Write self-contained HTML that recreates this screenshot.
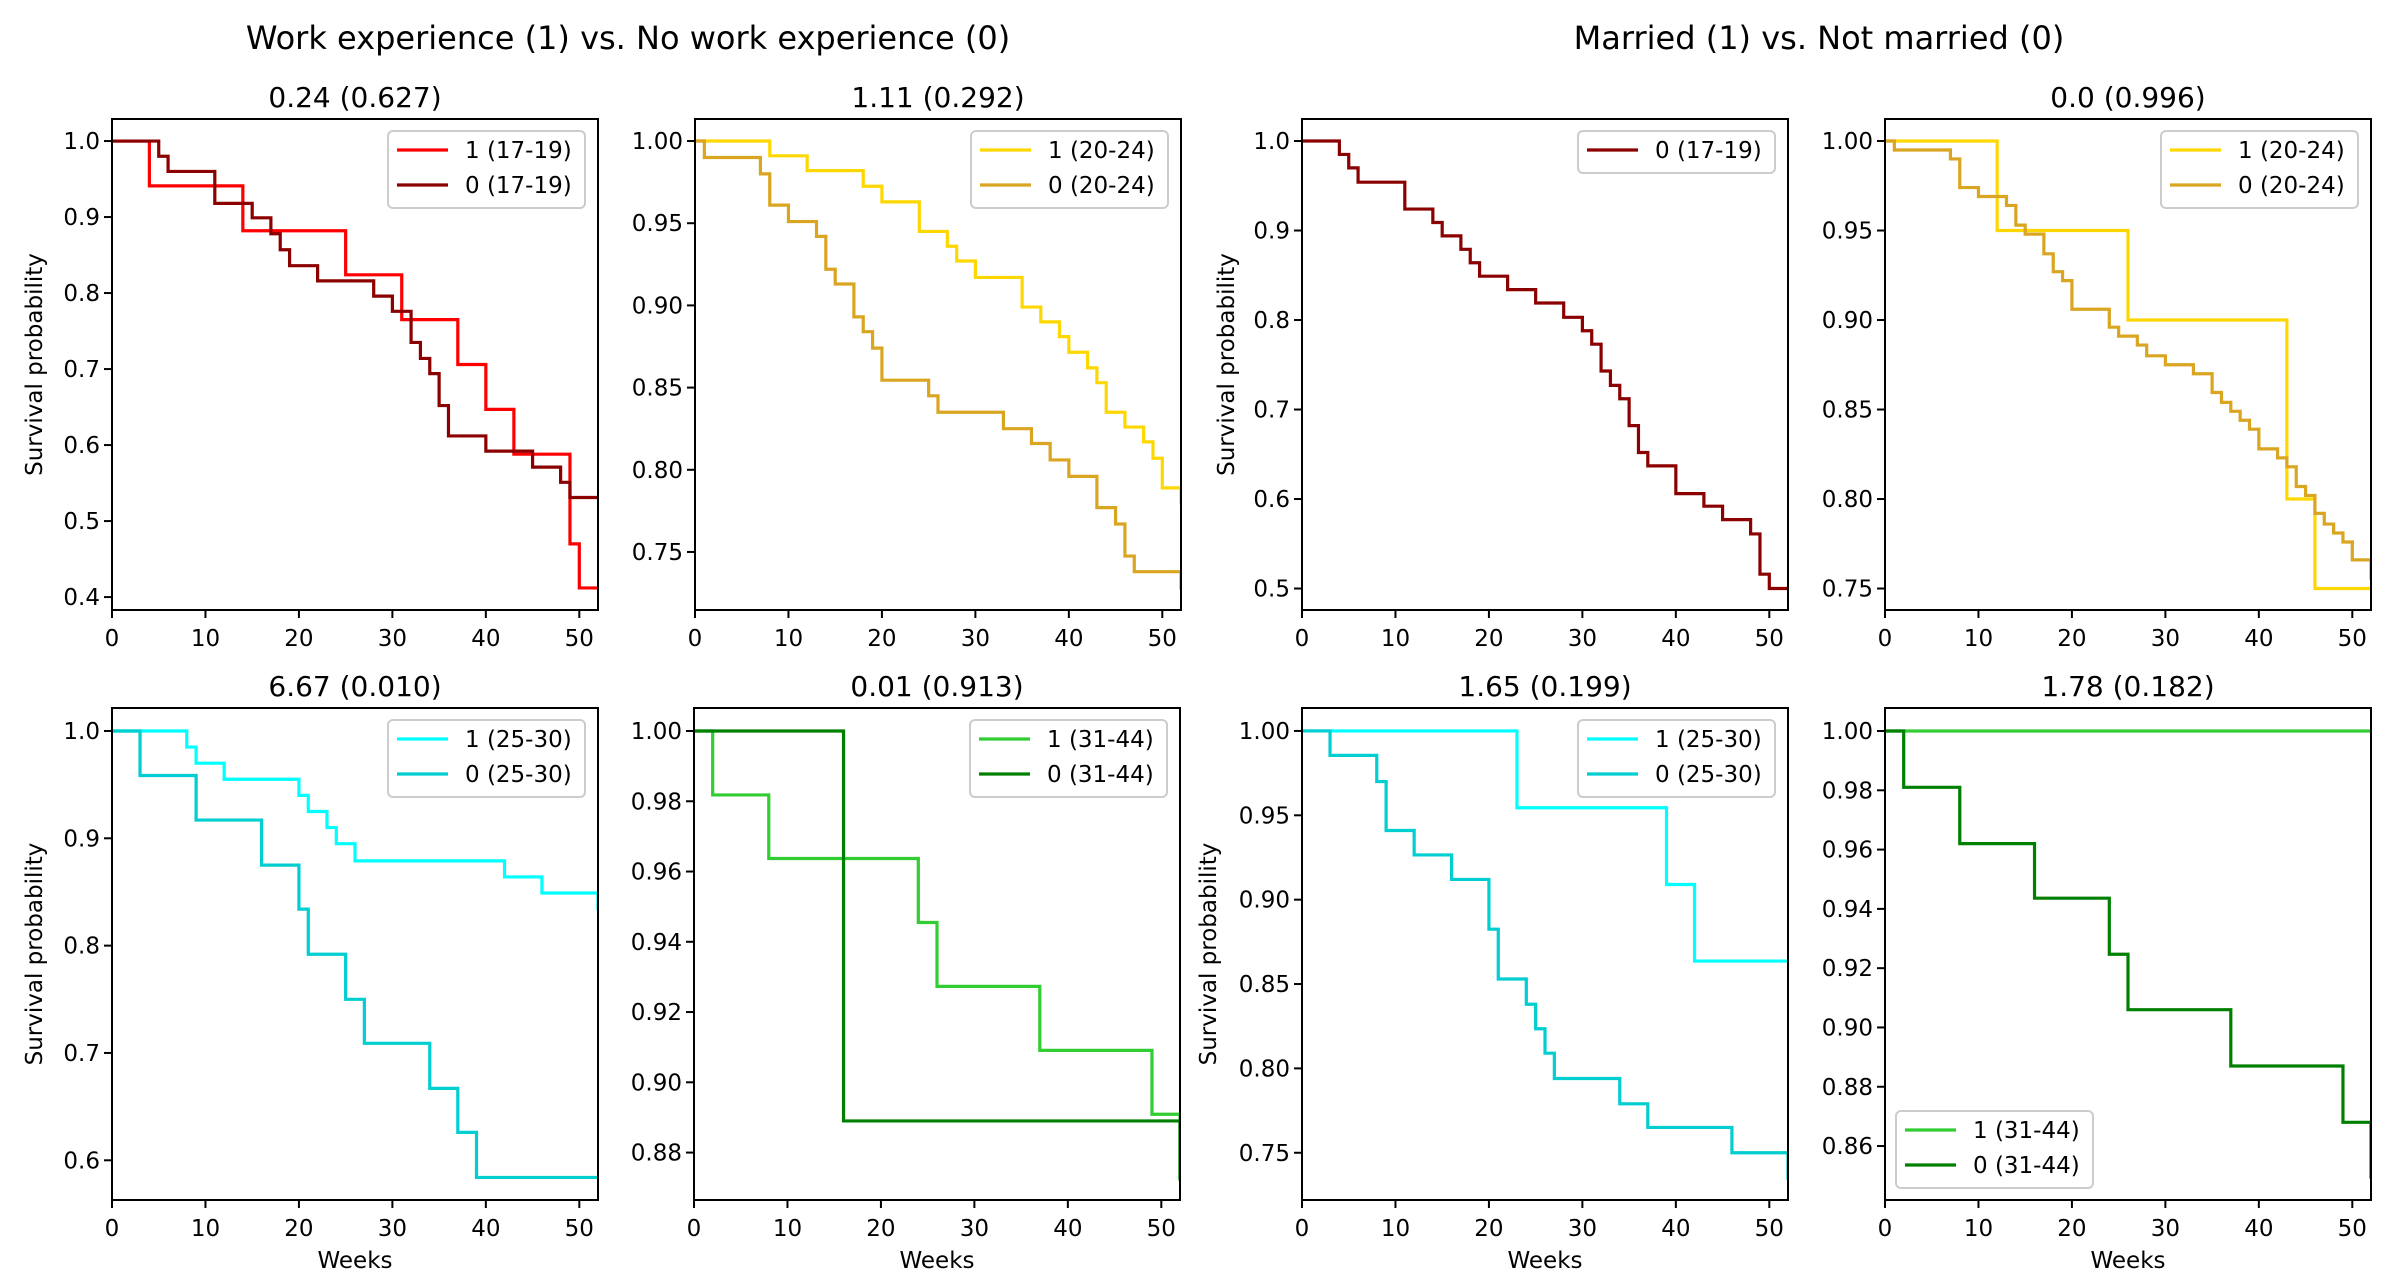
<!DOCTYPE html>
<html><head><meta charset="utf-8">
<style>
html,body{margin:0;padding:0;background:#fff;}
svg{display:block;font-family:"DejaVu Sans","Liberation Sans",sans-serif;}
</style></head>
<body>
<svg id="fig" width="2402" height="1277" viewBox="0 0 2402 1277" xmlns="http://www.w3.org/2000/svg">
<rect x="0" y="0" width="2402" height="1277" fill="#fff"/>
<text x="628" y="49" font-size="32" text-anchor="middle">Work experience (1) vs. No work experience (0)</text>
<text x="1819" y="49" font-size="32" text-anchor="middle">Married (1) vs. Not married (0)</text>
</svg>
<script>
// ---- data (weeks at which survival drops, survival after drop) ----
const p1_a_t=[4,14,25,31,37,40,43,49,50];
const p1_a_s=[0.941,0.882,0.824,0.765,0.706,0.647,0.588,0.470,0.412];
const p1_b_t=[5,6,11,15,17,18,19,22,28,30,32,33,34,35,36,40,45,48,49];
const p1_b_s=[0.980,0.960,0.918,0.899,0.878,0.857,0.836,0.816,0.796,0.776,0.735,0.714,0.694,0.652,0.612,0.592,0.571,0.551,0.531];
const p2_a_t=[8,12,18,20,24,27,28,30,35,37,39,40,42,43,44,46,48,49,50,52];
const p2_a_s=[0.991,0.982,0.9725,0.963,0.945,0.936,0.927,0.917,0.899,0.890,0.881,0.8715,0.862,0.853,0.835,0.826,0.817,0.807,0.789,0.779];
const p2_b_t=[1,7,8,10,13,14,15,17,18,19,20,25,26,33,36,38,40,43,45,46,47,52];
const p2_b_s=[0.990,0.980,0.961,0.951,0.942,0.922,0.913,0.893,0.884,0.874,0.8545,0.845,0.835,0.825,0.816,0.806,0.796,0.777,0.767,0.7475,0.738,0.727];
const p3_b_t=[4,5,6,11,14,15,17,18,19,22,25,28,30,31,32,33,34,35,36,37,40,43,45,48,49,50];
const p3_b_s=[0.985,0.970,0.954,0.924,0.909,0.894,0.879,0.864,0.849,0.834,0.819,0.803,0.788,0.773,0.743,0.727,0.712,0.682,0.652,0.637,0.606,0.592,0.577,0.561,0.516,0.500];
const p4_a_t=[12,26,43,46];
const p4_a_s=[0.950,0.900,0.800,0.750];
const p4_b_t=[1,7,8,10,13,14,15,17,18,19,20,24,25,27,28,30,33,35,36,37,38,39,40,42,43,44,45,46,47,48,49,50,52];
const p4_b_s=[0.995,0.990,0.974,0.969,0.964,0.953,0.948,0.937,0.927,0.922,0.906,0.896,0.891,0.886,0.880,0.875,0.870,0.8595,0.854,0.849,0.844,0.839,0.828,0.823,0.818,0.807,0.802,0.792,0.786,0.781,0.776,0.766,0.755];
const p5_a_t=[8,9,12,20,21,23,24,26,42,46,52];
const p5_a_s=[0.985,0.970,0.955,0.940,0.925,0.910,0.895,0.879,0.864,0.849,0.833];
const p5_b_t=[3,9,16,20,21,25,27,34,37,39];
const p5_b_s=[0.9585,0.917,0.875,0.834,0.792,0.750,0.709,0.667,0.626,0.584];
const p6_a_t=[2,8,24,26,37,49,52];
const p6_a_s=[0.9818,0.9637,0.9455,0.9273,0.9091,0.8909,0.8724];
const p6_b_t=[16,52];
const p6_b_s=[0.889,0.872];
const p7_a_t=[23,39,42];
const p7_a_s=[0.9545,0.909,0.8636];
const p7_b_t=[3,8,9,12,16,20,21,24,25,26,27,34,37,46,52];
const p7_b_s=[0.9855,0.970,0.941,0.9265,0.912,0.8825,0.853,0.838,0.8235,0.809,0.794,0.779,0.765,0.750,0.734];
const p8_a_t=[];
const p8_a_s=[];
const p8_b_t=[2,8,16,24,26,37,49,52];
const p8_b_s=[0.981,0.962,0.9436,0.9247,0.906,0.887,0.868,0.849];
const xTicks=[0,10,20,30,40,50];
const yTicks1=["1.0","0.9","0.8","0.7","0.6","0.5","0.4"];
const yTicks2=["1.00","0.95","0.90","0.85","0.80","0.75"];
const yTicks3=["1.0","0.9","0.8","0.7","0.6","0.5"];
const yTicks5=["1.0","0.9","0.8","0.7","0.6"];
const yTicks6=["1.00","0.98","0.96","0.94","0.92","0.90","0.88"];
const yTicks8=["1.00","0.98","0.96","0.94","0.92","0.90","0.88","0.86"];
const panelTitles=["0.24 (0.627)","1.11 (0.292)","","0.0 (0.996)","6.67 (0.010)","0.01 (0.913)","1.65 (0.199)","1.78 (0.182)"];

const NS="http://www.w3.org/2000/svg";
const svg=document.getElementById('fig');
function mk(tag,attrs,parent){const e=document.createElementNS(NS,tag);for(const k in attrs)e.setAttribute(k,attrs[k]);(parent||svg).appendChild(e);return e;}

const panels=[
 {id:1,L:112,T:119,H:491,y0:0.383,y1:1.029,ticks:yTicks1,ylab:35,xlab:false,
  series:[{t:p1_a_t,s:p1_a_s,c:"#ff0000",lab:"1 (17-19)"},{t:p1_b_t,s:p1_b_s,c:"#8b0000",lab:"0 (17-19)"}],leg:"ur"},
 {id:2,L:695,T:119,H:491,y0:0.7147,y1:1.0134,ticks:yTicks2,ylab:null,xlab:false,
  series:[{t:p2_a_t,s:p2_a_s,c:"#ffd700",lab:"1 (20-24)"},{t:p2_b_t,s:p2_b_s,c:"#daa520",lab:"0 (20-24)"}],leg:"ur"},
 {id:3,L:1302,T:119,H:491,y0:0.476,y1:1.0246,ticks:yTicks3,ylab:1227,xlab:false,
  series:[{t:p3_b_t,s:p3_b_s,c:"#8b0000",lab:"0 (17-19)"}],leg:"ur"},
 {id:4,L:1885,T:119,H:491,y0:0.738,y1:1.0123,ticks:yTicks2,ylab:null,xlab:false,
  series:[{t:p4_a_t,s:p4_a_s,c:"#ffd700",lab:"1 (20-24)"},{t:p4_b_t,s:p4_b_s,c:"#daa520",lab:"0 (20-24)"}],leg:"ur"},
 {id:5,L:112,T:708,H:492,y0:0.563,y1:1.0214,ticks:yTicks5,ylab:35,xlab:true,
  series:[{t:p5_a_t,s:p5_a_s,c:"#00ffff",lab:"1 (25-30)"},{t:p5_b_t,s:p5_b_s,c:"#00ced1",lab:"0 (25-30)"}],leg:"ur"},
 {id:6,L:694,T:708,H:492,y0:0.8665,y1:1.00655,ticks:yTicks6,ylab:null,xlab:true,
  series:[{t:p6_a_t,s:p6_a_s,c:"#32cd32",lab:"1 (31-44)"},{t:p6_b_t,s:p6_b_s,c:"#008000",lab:"0 (31-44)"}],leg:"ur"},
 {id:7,L:1302,T:708,H:492,y0:0.722,y1:1.0136,ticks:yTicks2,ylab:1209,xlab:true,
  series:[{t:p7_a_t,s:p7_a_s,c:"#00ffff",lab:"1 (25-30)"},{t:p7_b_t,s:p7_b_s,c:"#00ced1",lab:"0 (25-30)"}],leg:"ur"},
 {id:8,L:1885,T:708,H:492,y0:0.8418,y1:1.00776,ticks:yTicks8,ylab:null,xlab:true,
  series:[{t:p8_a_t,s:p8_a_s,c:"#32cd32",lab:"1 (31-44)"},{t:p8_b_t,s:p8_b_s,c:"#008000",lab:"0 (31-44)"}],leg:"ll"}
];
const W=486, XMAX=52;

panels.forEach((p,pi)=>{
  const g=mk('g',{});
  
  
  const xs=v=>p.L+v/XMAX*W;
  const ys=v=>p.T+(p.y1-v)/(p.y1-p.y0)*p.H;
  const cp=mk('clipPath',{id:'clip'+p.id},g);
  mk('rect',{x:p.L,y:p.T,width:W,height:p.H},cp);
  // title
  if(panelTitles[pi]){
    const t=mk('text',{x:p.L+W/2,y:p.T-12,'font-size':28,'text-anchor':'middle'},g);
    t.textContent=panelTitles[pi];
    
    
  }
  // series
  p.series.forEach((s,si)=>{
    let d='M'+xs(0)+','+ys(1);
    let cur=1;
    for(let i=0;i<s.t.length;i++){
      d+=' L'+xs(s.t[i])+','+ys(cur)+' L'+xs(s.t[i])+','+ys(s.s[i]);
      cur=s.s[i];
    }
    d+=' L'+xs(XMAX)+','+ys(cur);
    const path=mk('path',{d:d,fill:'none',stroke:s.c,'stroke-width':3.2,'clip-path':'url(#clip'+p.id+')'},g);
    
    
  });
  // axes frame
  const fr=mk('rect',{x:p.L,y:p.T,width:W,height:p.H,fill:'none',stroke:'#000','stroke-width':2},g);
  
  
  // x ticks
  xTicks.forEach(v=>{
    const x=xs(v);
    mk('line',{x1:x,y1:p.T+p.H,x2:x,y2:p.T+p.H+8,stroke:'#000','stroke-width':2},g);
    const t=mk('text',{x:x,y:p.T+p.H+36,'font-size':23,'text-anchor':'middle'},g);
    t.textContent=v;
    
    
  });
  // y ticks
  p.ticks.forEach(lab=>{
    const y=ys(parseFloat(lab));
    mk('line',{x1:p.L-8,y1:y,x2:p.L,y2:y,stroke:'#000','stroke-width':2},g);
    const t=mk('text',{x:p.L-12,y:y+8,'font-size':23,'text-anchor':'end'},g);
    t.textContent=lab;
    
    
  });
  if(p.ylab!==null){
    const cy=p.T+p.H/2;
    const t=mk('text',{x:p.ylab,y:cy,'font-size':23,'text-anchor':'middle','dominant-baseline':'central',transform:'rotate(-90 '+p.ylab+' '+cy+')'},g);
    t.textContent='Survival probability';
    
    
  }
  if(p.xlab){
    const t=mk('text',{x:p.L+W/2,y:p.T+p.H+68,'font-size':23,'text-anchor':'middle'},g);
    t.textContent='Weeks';
    
    
  }
  // legend
  const n=p.series.length;
  const lw=197, lh=n===2?77:42;
  const lx=p.leg==='ur'?p.L+W-13-lw:p.L+11;
  const ly=p.leg==='ur'?p.T+12:p.T+p.H-12-lh;
  const lg=mk('g',{},g);
  
  
  mk('rect',{x:lx,y:ly,width:lw,height:lh,rx:5,fill:'#fff','fill-opacity':0.8,stroke:'#cccccc','stroke-width':2},lg);
  p.series.forEach((s,i)=>{
    const yy=ly+19+i*35;
    mk('line',{x1:lx+9,y1:yy,x2:lx+60,y2:yy,stroke:s.c,'stroke-width':3.2},lg);
    const t=mk('text',{x:lx+77,y:yy+8,'font-size':23},lg);
    t.textContent=s.lab;
    
    
  });
});
</script>
</body></html>
